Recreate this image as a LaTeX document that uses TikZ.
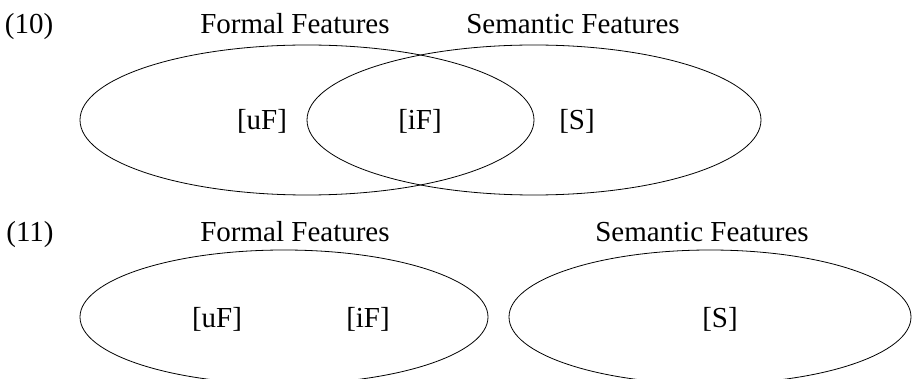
\documentclass[tikz,border=0pt]{standalone}
\usepackage{fontspec}
\setmainfont{Liberation Serif}
\begin{document}
\begin{tikzpicture}[x=1pt,y=-1pt,line width=0.8pt,
    every node/.style={anchor=base,font=\fontsize{29}{34}\selectfont}]
    \clip (0,0) rectangle (912,379);
    % (10): overlapping sets
    \node (exten) at (29,34) {(10)};
    \node (formalA) at (295,34) {Formal Features};
    \node (semanticA) at (573,34) {Semantic Features};
    \draw (307,120) ellipse (227pt and 75pt);
    \draw (534,120) ellipse (227pt and 75pt);
    \node (ufA) at (262,130) {[uF]};
    \node (ifA) at (420,130) {[iF]};
    \node (sA) at (577,130) {[S]};
    % (11): disjoint sets
    \node (exeleven) at (30,242) {(11)};
    \node (formalB) at (295,241) {Formal Features};
    \node (semanticB) at (702,241) {Semantic Features};
    \draw (284,317) ellipse (204pt and 67pt);
    \draw (710,317) ellipse (201pt and 67pt);
    \node (ufB) at (217,327) {[uF]};
    \node (ifB) at (368,327) {[iF]};
    \node (sB) at (720,327) {[S]};
\end{tikzpicture}
\end{document}
